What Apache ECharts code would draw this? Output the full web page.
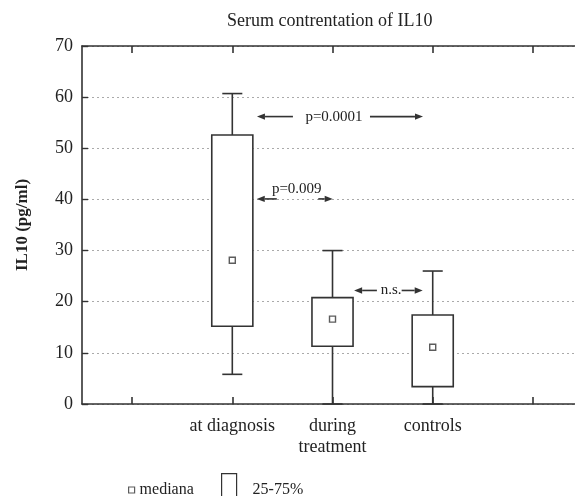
<!DOCTYPE html>
<html>
<head>
<meta charset="utf-8">
<script src="https://cdn.jsdelivr.net/npm/echarts@6/dist/echarts.min.js"></script>
<style>
html,body{margin:0;padding:0;background:#fff;}
#chart{width:575px;height:496px;}
</style>
</head>
<body>
<div id="chart"></div>
<script>
// ---- data ----
const categories = ['at diagnosis', 'during\ntreatment', 'controls'];
const categoryPos = [2, 3, 4];          // slot on the x axis (slots 1..5, outer two empty)
const tickSlots = [1, 2, 3, 4, 5];
const whiskerLow = [5.8, 0, 0];
const q1 = [15.2, 11.3, 3.4];
const median = [28.1, 16.6, 11.1];
const q3 = [52.6, 20.8, 17.4];
const whiskerHigh = [60.7, 30.0, 26.0];
const yTicks = [0, 10, 20, 30, 40, 50, 60, 70];
const annotationLabels = ['p=0.0001', 'p=0.009', 'n.s.'];
const annotationLevels = [56.2, 40.1, 22.2];

// ---- build ----
const FONT = "'Liberation Serif', 'DejaVu Serif', serif";
const INK = '#333';

const boxData = categoryPos.map((c, i) => [c, whiskerLow[i], q1[i], median[i], q3[i], whiskerHigh[i]]);
const medData = categoryPos.map((c, i) => [c, median[i]]);

// annotation geometry in x-slot units: left arrow tip/tail, text center & pixel dy, right arrow tail/tip
const annotLayout = [
  {lt: 2.246, ll: 2.605, tx: 3.015, ty: 0, rl: 3.374, rt: 3.903},
  {lt: 2.244, ll: 2.444, tx: 2.643, ty: -10, rl: 2.858, rt: 3.002},
  {lt: 3.216, ll: 3.443, tx: 3.585, ty: 0, rl: 3.69, rt: 3.90}
];
const annData = annotationLabels.map((t, i) => [annotLayout[i].tx, annotationLevels[i]]);

function arrow(x1, x2, y) {
  const dir = x2 > x1 ? 1 : -1;
  const hl = 8, hw = 3.2;
  return [
    {type: 'line', shape: {x1: x1, y1: y, x2: x2 - dir * hl, y2: y}, style: {stroke: INK, lineWidth: 1.6}},
    {type: 'polygon', shape: {points: [[x2, y], [x2 - dir * hl, y - hw], [x2 - dir * hl, y + hw]]}, style: {fill: INK}}
  ];
}

const xAxisCommon = {
  type: 'value', min: 0.5, max: 5.42,
  axisLine: {show: true, onZero: false, lineStyle: {color: INK, width: 1.6}},
  axisTick: {show: true, inside: true, length: 7, customValues: tickSlots, lineStyle: {color: INK, width: 1.6}},
  splitLine: {show: false}
};

const option = {
  backgroundColor: '#fff',
  animation: false,
  title: {
    text: 'Serum contrentation of IL10',
    left: 227, top: 12, padding: 0,
    textStyle: {fontFamily: FONT, fontSize: 18, fontWeight: 'normal', color: '#222'}
  },
  legend: [
    {
      selectedMode: false, padding: 0, left: 128, top: 482,
      itemWidth: 6, itemHeight: 6,
      data: [{name: 'mediana', icon: 'rect', itemStyle: {color: '#fff', borderColor: INK, borderWidth: 1.2}}],
      textStyle: {fontFamily: FONT, fontSize: 16, color: '#222'}
    },
    {
      selectedMode: false, padding: 0, left: 221, top: 473,
      itemWidth: 15, itemHeight: 32,
      data: [{name: '25-75%', icon: 'rect', itemStyle: {color: '#fff', borderColor: INK, borderWidth: 1.2}}],
      textStyle: {fontFamily: FONT, fontSize: 16, color: '#222', padding: [0, 0, 0, 11]}
    }
  ],
  grid: {left: 82, right: 0, top: 46, bottom: 92},
  xAxis: [
    Object.assign({}, xAxisCommon, {
      position: 'bottom',
      axisLabel: {
        show: true, customValues: categoryPos, margin: 12,
        fontFamily: FONT, fontSize: 18, color: '#222', lineHeight: 21,
        formatter: v => { const k = categoryPos.indexOf(Math.round(v)); return k >= 0 ? categories[k] : ''; }
      }
    }),
    Object.assign({}, xAxisCommon, {position: 'top', axisLabel: {show: false}})
  ],
  yAxis: {
    type: 'value', min: yTicks[0], max: yTicks[yTicks.length - 1], interval: 10,
    name: 'IL10 (pg/ml)', nameLocation: 'middle', nameGap: 51, nameRotate: 90,
    nameTextStyle: {fontFamily: FONT, fontSize: 17, fontWeight: 'bold', color: '#222'},
    axisLine: {show: true, lineStyle: {color: INK, width: 1.6}},
    axisTick: {show: true, inside: true, length: 6, lineStyle: {color: INK, width: 1.4}},
    axisLabel: {margin: 9, fontFamily: FONT, fontSize: 18, color: '#222'},
    splitLine: {show: true, lineStyle: {type: [2, 3], color: '#aaa', width: 1}}
  },
  series: [
    {
      name: '25-75%', type: 'custom', xAxisIndex: 0,
      itemStyle: {color: '#fff', borderColor: INK},
      data: boxData,
      encode: {x: 0, y: [1, 2, 3, 4, 5]},
      renderItem: function (params, api) {
        const c = api.value(0);
        const w = api.size([1, 0])[0];
        const x = api.coord([c, 0])[0];
        const yL = api.coord([c, api.value(1)])[1];
        const y1 = api.coord([c, api.value(2)])[1];
        const y3 = api.coord([c, api.value(4)])[1];
        const yH = api.coord([c, api.value(5)])[1];
        const bw = w * 0.41, cw = w * 0.2;
        const ls = {stroke: INK, lineWidth: 1.6, fill: null};
        return {
          type: 'group',
          children: [
            {type: 'line', shape: {x1: x, y1: y3, x2: x, y2: yH}, style: ls},
            {type: 'line', shape: {x1: x - cw / 2, y1: yH, x2: x + cw / 2, y2: yH}, style: ls},
            {type: 'line', shape: {x1: x, y1: y1, x2: x, y2: yL}, style: ls},
            {type: 'line', shape: {x1: x - cw / 2, y1: yL, x2: x + cw / 2, y2: yL}, style: ls},
            {type: 'rect', shape: {x: x - bw / 2, y: y3, width: bw, height: y1 - y3}, style: {stroke: INK, lineWidth: 1.6, fill: '#fff'}}
          ]
        };
      }
    },
    {
      name: 'mediana', type: 'scatter', xAxisIndex: 0,
      symbol: 'rect', symbolSize: 6,
      itemStyle: {color: '#fff', borderColor: INK, borderWidth: 1.4},
      data: medData, z: 5
    },
    {
      name: 'annotations', type: 'custom', xAxisIndex: 0,
      data: annData,
      encode: {x: 0, y: 1},
      silent: true,
      renderItem: function (params, api) {
        const i = params.dataIndex;
        const L = annotLayout[i];
        const lvl = api.value(1);
        const X = f => api.coord([f, lvl])[0];
        const y = api.coord([L.tx, lvl])[1];
        const kids = [].concat(
          arrow(X(L.ll), X(L.lt), y),
          arrow(X(L.rl), X(L.rt), y),
          [{type: 'text', style: {text: annotationLabels[i], x: X(L.tx), y: y + L.ty, align: 'center', verticalAlign: 'middle',
            font: '15px ' + FONT, fill: '#222'}}]
        );
        return {type: 'group', children: kids};
      }
    }
  ]
};

const chart = echarts.init(document.getElementById('chart'), null, {renderer: 'canvas'});
chart.setOption(option);
</script>
</body>
</html>
